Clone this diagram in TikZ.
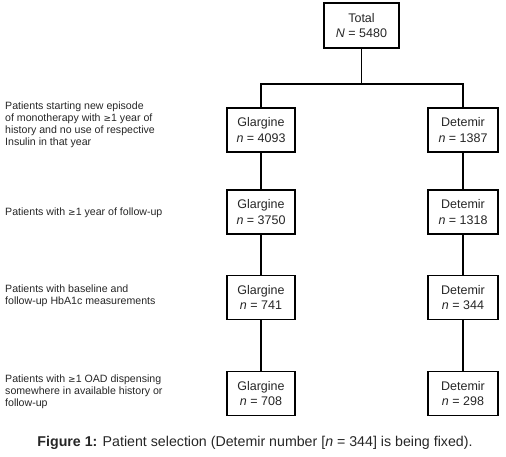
\documentclass[tikz,border=0pt]{standalone}
\usepackage{fontspec}
\setmainfont{Liberation Sans}
\begin{document}
\begin{tikzpicture}[x=1pt,y=-1pt,
  grp/.style={draw=black,line width=1.6pt,align=center,font=\fontsize{12.5}{15.5}\selectfont,text=black!85,inner sep=0pt,minimum height=44pt},
  gbox/.style={grp,minimum width=68pt},
  dbox/.style={grp,minimum width=70pt},
  crit/.style={anchor=west,align=left,font=\fontsize{10.6}{12}\selectfont,text=black!85,inner sep=0pt},
  conn/.style={line width=1.6pt}]
\useasboundingbox (0,0) rectangle (506,457);
\node[grp,minimum width=75pt,minimum height=45pt] (total) at (361.5,25.5) {Total\\\textit{N} = 5480};
\node[gbox] (g1) at (261,130) {Glargine\\\textit{n} = 4093};
\node[dbox] (d1) at (463,130) {Detemir\\\textit{n} = 1387};
\node[gbox] (g2) at (261,212) {Glargine\\\textit{n} = 3750};
\node[dbox] (d2) at (463,212) {Detemir\\\textit{n} = 1318};
\node[gbox] (g3) at (261,297.5) {Glargine\\\textit{n} = 741};
\node[dbox] (d3) at (463,297.5) {Detemir\\\textit{n} = 344};
\node[gbox] (g4) at (261,393.5) {Glargine\\\textit{n} = 708};
\node[dbox] (d4) at (463,393.5) {Detemir\\\textit{n} = 298};
\coordinate (j) at (361.5,84);
\draw[conn] (total.south) -- (j);
\draw[conn] (g1.north) |- (j) -| (d1.north);
\draw[conn] (g1) -- (g2); \draw[conn] (g2) -- (g3); \draw[conn] (g3) -- (g4);
\draw[conn] (d1) -- (d2); \draw[conn] (d2) -- (d3); \draw[conn] (d3) -- (d4);
\node[crit] (c1) at (5,125) {Patients starting new episode\\of monotherapy with {\fontspec{DejaVu Sans}\fontsize{9}{11}\selectfont ≥}1 year of\\history and no use of respective\\Insulin in that year};
\node[crit] (c2) at (5,213) {Patients with {\fontspec{DejaVu Sans}\fontsize{9}{11}\selectfont ≥}1 year of follow-up};
\node[crit] (c3) at (5,296) {Patients with baseline and\\follow-up HbA1c measurements};
\node[crit] (c4) at (5,392) {Patients with {\fontspec{DejaVu Sans}\fontsize{9}{11}\selectfont ≥}1 OAD dispensing\\somewhere in available history or\\follow-up};
\node[inner sep=0pt,font=\fontsize{14.2}{17}\selectfont,text=black!85] (cap) at (255,443) {\textbf{Figure 1:} Patient selection (Detemir number [\textit{n} = 344] is being fixed).};
\end{tikzpicture}
\end{document}
